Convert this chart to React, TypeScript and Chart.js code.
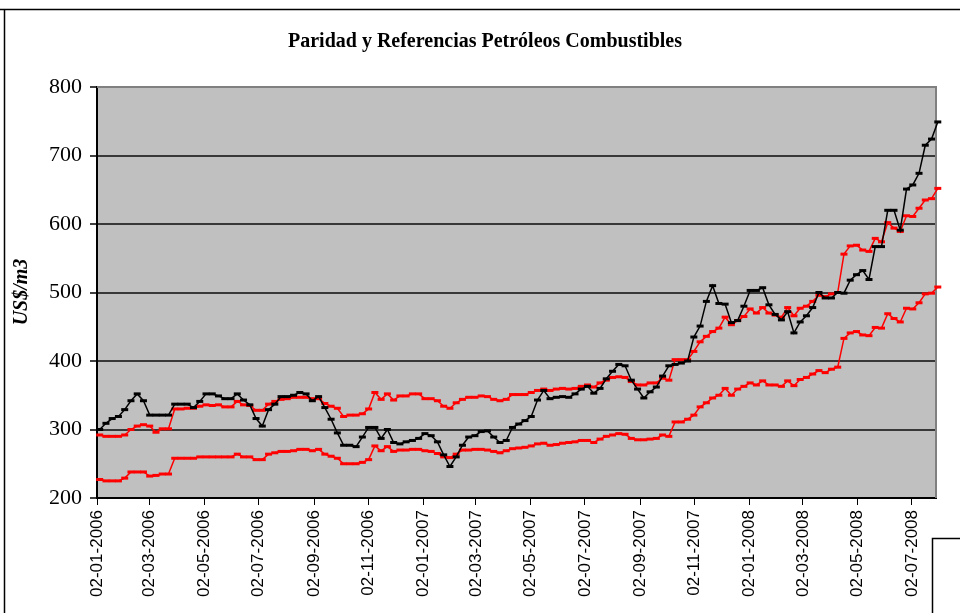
import React, { useEffect, useRef } from "react";
import { Chart, registerables } from "chart.js";

Chart.register(...registerables);

const chartTitle = "Paridad y Referencias Petróleos Combustibles";
const yAxisTitle = "US$/m3";

// tick labels on the date axis (dd-mm-yyyy)
const tickLabels = [
  "02-01-2006", "02-03-2006", "02-05-2006", "02-07-2006", "02-09-2006", "02-11-2006",
  "02-01-2007", "02-03-2007", "02-05-2007", "02-07-2007", "02-09-2007", "02-11-2007",
  "02-01-2008", "02-03-2008", "02-05-2008", "02-07-2008",
];
const axisStart = "02-01-2006";
const axisEnd = "29-07-2008";
const firstObservation = "05-01-2006"; // weekly observations from this date
const yTicks = [200, 300, 400, 500, 600, 700, 800];

// weekly series (US$/m3)
const paridad = [
  300, 309, 316, 319, 329, 342, 352, 342, 321, 321,
  321, 321, 337, 337, 337, 332, 341, 352, 352, 349,
  345, 345, 352, 343, 336, 316, 305, 329, 337, 348,
  348, 350, 354, 352, 342, 348, 332, 315, 295, 277,
  277, 275, 289, 303, 303, 287, 300, 281, 279, 282,
  284, 287, 294, 291, 282, 263, 246, 260, 277, 289,
  291, 297, 298, 289, 281, 284, 303, 308, 313, 319,
  343, 357, 345, 347, 348, 347, 352, 359, 363, 353,
  360, 374, 385, 395, 393, 372, 359, 346, 355, 362,
  378, 393, 395, 397, 400, 435, 451, 487, 510, 484,
  483, 456, 459, 480, 503, 503, 507, 482, 468, 460,
  472, 441, 457, 466, 478, 500, 492, 492, 500, 499,
  518, 526, 532, 519, 567, 567, 620, 620, 591, 651,
  657, 674, 715, 724, 749,
];
const referenciaSuperior = [
  292, 290, 290, 290, 292, 300, 305, 307, 305, 296,
  301, 301, 330, 330, 331, 331, 334, 336, 335, 336,
  333, 333, 341, 336, 335, 328, 328, 337, 341, 344,
  345, 347, 347, 347, 345, 345, 338, 334, 331, 319,
  321, 321, 323, 330, 354, 344, 352, 343, 349, 349,
  352, 352, 345, 345, 342, 334, 331, 339, 344, 347,
  347, 349, 348, 344, 342, 344, 351, 351, 351, 354,
  357, 359, 357, 359, 360, 359, 360, 363, 365, 362,
  368, 372, 376, 377, 376, 370, 365, 365, 368, 368,
  375, 372, 402, 402, 402, 414, 428, 436, 443, 448,
  464, 453, 459, 465, 476, 470, 478, 470, 467, 464,
  478, 466, 477, 480, 487, 496, 494, 498, 500, 556,
  568, 569, 562, 560, 579, 574, 602, 594, 589, 612,
  611, 623, 635, 637, 652,
];
const referenciaInferior = [
  227, 225, 225, 225, 229, 238, 238, 238, 232, 233,
  235, 235, 258, 258, 258, 258, 260, 260, 260, 260,
  260, 260, 264, 260, 260, 256, 256, 264, 266, 268,
  268, 269, 271, 271, 269, 271, 264, 261, 258, 250,
  250, 250, 252, 256, 276, 269, 275, 268, 270, 270,
  271, 271, 269, 268, 265, 260, 259, 264, 270, 270,
  271, 271, 270, 268, 266, 269, 272, 273, 274, 276,
  279, 280, 277, 278, 280, 281, 282, 284, 284, 281,
  286, 290, 292, 294, 293, 287, 285, 285, 286, 287,
  292, 290, 311, 311, 315, 321, 333, 339, 346, 350,
  360, 350, 359, 363, 368, 365, 371, 365, 365, 363,
  371, 364, 373, 376, 381, 386, 383, 388, 391, 433,
  441, 443, 438, 437, 449, 448, 469, 462, 457, 477,
  476, 485, 498, 499, 508,
];

const toDay = (s: string) => {
  const [d, m, y] = s.split("-").map(Number);
  return (Date.UTC(y, m - 1, d) - Date.UTC(2006, 0, 2)) / 86400000;
};

const tickDays = tickLabels.map(toDay);
const startDay = toDay(firstObservation);
const toPoints = (arr: number[]) => arr.map((v, i) => ({ x: startDay + 7 * i, y: v }));

const SERIF = "'Liberation Serif', 'Times New Roman', serif";
const SANS = "'Liberation Sans', Arial, sans-serif";

const decorPlugin = {
  id: "decor",
  beforeDraw(chart: any) {
    const { ctx, chartArea } = chart;
    ctx.save();
    ctx.fillStyle = "#ffffff";
    ctx.fillRect(0, 0, chart.width, chart.height);
    ctx.fillStyle = "#C0C0C0";
    ctx.fillRect(chartArea.left, chartArea.top, chartArea.right - chartArea.left, chartArea.bottom - chartArea.top);
    ctx.restore();
  },
  beforeDatasetsDraw(chart: any) {
    const { ctx, chartArea } = chart;
    ctx.save();
    ctx.strokeStyle = "#808080";
    ctx.lineWidth = 2;
    ctx.beginPath();
    ctx.moveTo(chartArea.left, chartArea.top);
    ctx.lineTo(chartArea.right, chartArea.top);
    ctx.lineTo(chartArea.right, chartArea.bottom);
    ctx.stroke();
    ctx.restore();
  },
  afterDraw(chart: any) {
    const { ctx } = chart;
    ctx.save();
    // outer frame fragments
    ctx.strokeStyle = "#000";
    ctx.lineWidth = 1.5;
    ctx.beginPath();
    ctx.moveTo(0, 9.5);
    ctx.lineTo(chart.width, 9.5);
    ctx.moveTo(4.5, 9.5);
    ctx.lineTo(4.5, chart.height);
    ctx.stroke();
    // legend box fragment
    ctx.beginPath();
    ctx.moveTo(932.5, chart.height);
    ctx.lineTo(932.5, 538.5);
    ctx.lineTo(chart.width, 538.5);
    ctx.stroke();
    // title
    ctx.fillStyle = "#000";
    ctx.font = `bold 20px ${SERIF}`;
    ctx.textAlign = "center";
    ctx.textBaseline = "middle";
    ctx.fillText(chartTitle, 485, 42);
    // y title
    ctx.translate(22, 292);
    ctx.rotate(-Math.PI / 2);
    ctx.font = `italic bold 20px ${SERIF}`;
    ctx.fillText(yAxisTitle, 0, 0);
    ctx.restore();
  },
};

export default function App() {
  const ref = useRef<HTMLCanvasElement | null>(null);

  useEffect(() => {
    if (!ref.current) return;
    const common = {
      borderWidth: 1.5,
      pointStyle: "line",
      pointRadius: 3.5,
      pointBorderWidth: 3,
      pointHoverRadius: 3.5,
      tension: 0,
      clip: false,
      fill: false,
    };
    const chart = new Chart(ref.current, {
      type: "line",
      data: {
        datasets: [
          { label: "Paridad", data: toPoints(paridad), borderColor: "#000000", backgroundColor: "#000000", ...common },
          { label: "Referencia superior", data: toPoints(referenciaSuperior), borderColor: "#FF0000", backgroundColor: "#FF0000", ...common },
          { label: "Referencia inferior", data: toPoints(referenciaInferior), borderColor: "#FF0000", backgroundColor: "#FF0000", ...common },
        ],
      } as any,
      options: {
        responsive: false,
        animation: false,
        events: [],
        layout: { padding: { top: 87, right: 24, left: 0, bottom: 0 } },
        plugins: { legend: { display: false }, title: { display: false }, tooltip: { enabled: false } },
        scales: {
          x: {
            type: "linear",
            min: toDay(axisStart),
            max: toDay(axisEnd),
            afterBuildTicks: (s: any) => {
              s.ticks = tickDays.map((v) => ({ value: v }));
            },
            afterFit: (s: any) => {
              s.height = 115;
            },
            ticks: {
              autoSkip: false,
              maxRotation: 90,
              minRotation: 90,
              padding: 5,
              color: "#000",
              font: { family: SANS, size: 17 },
              callback: (_v: any, i: number) => tickLabels[i],
            },
            grid: { drawOnChartArea: false, drawTicks: true, tickLength: 7, tickColor: "#000", tickWidth: 1 },
            border: { color: "#000", width: 2 },
          },
          y: {
            min: yTicks[0],
            max: yTicks[yTicks.length - 1],
            afterBuildTicks: (s: any) => {
              s.ticks = yTicks.map((v) => ({ value: v }));
            },
            afterFit: (s: any) => {
              s.width = 97;
            },
            ticks: { padding: 8, color: "#000", font: { family: SERIF, size: 22 } },
            grid: {
              color: (c: any) => (c.tick && c.tick.value === 800 ? "#808080" : "#383838"),
              lineWidth: 2,
              tickColor: "#000",
              tickLength: 7,
              tickWidth: 1.5,
            },
            border: { color: "#000", width: 2 },
          },
        },
      } as any,
      plugins: [decorPlugin],
    });
    return () => chart.destroy();
  }, []);

  return (
    <div style={{ position: "fixed", left: 0, top: 0, width: 960, height: 613, background: "#fff" }}>
      <canvas ref={ref} width={960} height={613} style={{ display: "block" }} />
    </div>
  );
}
